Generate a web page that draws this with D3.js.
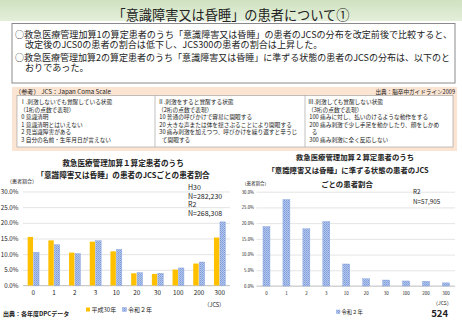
<!DOCTYPE html>
<html><head><meta charset="utf-8">
<script src="https://cdn.jsdelivr.net/npm/d3@7"></script>
<style>
body{margin:0;background:#fff;}
svg{display:block;}
text{font-family:"Noto Sans CJK JP","Noto Sans",sans-serif;fill:#222;}
</style></head>
<body><svg id="c" width="462" height="320"></svg>
<script>
// ---------- data ----------
const categories = ["0","1","2","3","10","20","30","100","200","300"];
const h30Values = [15.5, 14.4, 10.5, 14.0, 10.9, 3.9, 3.7, 5.1, 7.0, 15.3];
const r2Values1 = [10.6, 13.0, 10.2, 14.3, 11.5, 4.1, 3.9, 5.6, 7.5, 20.3];
const r2Values2 = [18.9, 27.5, 18.2, 20.5, 7.0, 2.3, 1.9, 1.6, 1.5, 1.0];
const yTicks = [0, 5, 10, 15, 20, 25, 30];
const seriesNames = ["平成30年", "令和２年"];

const titleText = "「意識障害又は昏睡」の患者について①";
const summaryLines = [
  "○救急医療管理加算1の算定患者のうち「意識障害又は昏睡」の患者のJCSの分布を改定前後で比較すると、",
  "改定後のJCS0の患者の割合は低下し、JCS300の患者の割合は上昇した。",
  "○救急医療管理加算2の算定患者のうち「意識障害又は昏睡」に準ずる状態の患者のJCSの分布は、以下のと",
  "おりであった。"
];
const refHeader = "（参考） JCS：Japan Coma Scale";
const refSource = "出典：脳卒中ガイドライン2009";
const refCols = [
  ["Ⅰ.刺激しないでも覚醒している状態","（1桁の点数で表現）"," 0 意識清明"," 1 意識清明とはいえない"," 2 見当識障害がある"," 3 自分の名前・生年月日が言えない"],
  ["Ⅱ.刺激をすると覚醒する状態","（2桁の点数で表現）"," 10 普通の呼びかけで容易に開眼する"," 20 大きな声または体を揺さぶることにより開眼する"," 30 痛み刺激を加えつつ、呼びかけを繰り返すと辛うじ","   て開眼する"],
  ["Ⅲ.刺激しても覚醒しない状態","（3桁の点数で表現）"," 100 痛みに対し、払いのけるような動作をする"," 200 痛み刺激で少し手足を動かしたり、顔をしかめ","   る"," 300 痛み刺激に全く反応しない"]
];
const chart1Title = ["救急医療管理加算１算定患者のうち","「意識障害又は昏睡」の患者のJCSごとの患者割合"];
const chart2Title = ["救急医療管理加算２算定患者のうち","「意識障害又は昏睡」に準ずる状態の患者のJCS","ごとの患者割合"];
const chart1Notes = ["H30","N=282,230","R2","N=268,308"];
const chart2Notes = ["R2","N=57,905"];

// ---------- drawing ----------
const svg = d3.select("#c");
const defs = svg.append("defs");
const g = defs.append("linearGradient").attr("id","tg").attr("x1",0).attr("x2",0).attr("y1",0).attr("y2",1);
g.append("stop").attr("offset","0%").attr("stop-color","#cfe2c0");
g.append("stop").attr("offset","100%").attr("stop-color","#e4efda");
const pat = defs.append("pattern").attr("id","bp").attr("width",2).attr("height",2).attr("patternUnits","userSpaceOnUse");
pat.append("rect").attr("width",2).attr("height",2).attr("fill","#b3c6ec");
pat.append("rect").attr("width",1).attr("height",1).attr("fill","#7f9ddc");
pat.append("rect").attr("x",1).attr("y",1).attr("width",1).attr("height",1).attr("fill","#8fa9e0");

const yellow = "#ffc000";
const blueFill = "url(#bp)";
const blueStroke = "#7f9ddc";

// title band
svg.append("rect").attr("x",0).attr("y",0).attr("width",462).attr("height",21).attr("fill","url(#tg)");
svg.append("text").attr("x",231).attr("y",14.5).attr("text-anchor","middle").attr("dominant-baseline","central")
  .attr("font-size",13.2).attr("fill","#111").text(titleText);

// summary box
svg.append("rect").attr("x",12).attr("y",23.5).attr("width",443).attr("height",59.5)
  .attr("fill","#fff").attr("stroke","#8a8a8a").attr("stroke-width",1);
const sumPos = [[15,33.5,437],[25,43.5,null],[15,57,435],[25,67,null]];
summaryLines.forEach((t,i)=>{
  const tx = svg.append("text").attr("x",sumPos[i][0]).attr("y",sumPos[i][1]).attr("dominant-baseline","central")
    .attr("font-size",9.1).attr("fill","#111").text(t);
  if (sumPos[i][2]) tx.attr("textLength",sumPos[i][2]).attr("lengthAdjust","spacingAndGlyphs");
});

// reference box
svg.append("rect").attr("x",12).attr("y",87).attr("width",445).attr("height",64).attr("fill","#fbe4d2");
svg.append("text").attr("x",15).attr("y",91.5).attr("dominant-baseline","central").attr("font-size",6.2).attr("fill","#333").text(refHeader);
svg.append("text").attr("x",455).attr("y",91.5).attr("text-anchor","end").attr("dominant-baseline","central").attr("font-size",5.6).attr("fill","#333").text(refSource);
svg.append("rect").attr("x",17).attr("y",95.5).attr("width",436).attr("height",51.5).attr("fill","#fff").attr("stroke","#999").attr("stroke-width",0.6);
const colX = [17,155,305,453];
[155,305].forEach(x=>svg.append("line").attr("x1",x).attr("x2",x).attr("y1",95.5).attr("y2",147).attr("stroke","#999").attr("stroke-width",0.6));
refCols.forEach((col,ci)=>{
  col.forEach((t,li)=>{
    svg.append("text").attr("x",colX[ci]+3).attr("y",101.5+li*7.5).attr("dominant-baseline","central")
      .attr("font-size",5.7).attr("fill","#333").style("white-space","pre").text(t);
  });
});

// ---------- chart helper ----------
function drawChart(opt){
  const x = d3.scaleBand().domain(categories).range(opt.xr).padding(0);
  const y = d3.scaleLinear().domain([0,30]).range(opt.yr);
  const gy = svg.append("g").attr("transform",`translate(${opt.xr[0]},0)`)
    .call(d3.axisLeft(y).tickValues(yTicks).tickFormat(d=>d3.format(".1f")(d)+"%").tickSize(-(opt.gridEnd-opt.xr[0])).tickPadding(opt.tickPad));
  gy.select(".domain").remove();
  gy.selectAll(".tick line").attr("stroke","#d9d9d9").attr("stroke-width",0.7);
  gy.selectAll(".tick text").attr("font-size",opt.yFont).attr("fill","#595959").attr("font-family","'Noto Sans','Liberation Sans',sans-serif");
  const gx = svg.append("g").attr("transform",`translate(0,${opt.yr[0]})`)
    .call(d3.axisBottom(x).tickSize(0).tickPadding(opt.xPad));
  gx.select(".domain").attr("stroke","#bfbfbf").attr("stroke-width",0.8).attr("d",`M${opt.xr[0]},0H${opt.gridEnd}`);
  gx.selectAll(".tick text").attr("font-size",opt.xFont).attr("fill","#404040").attr("font-family","'Noto Sans','Liberation Sans',sans-serif");
  return {x,y};
}

// chart 1
const c1 = drawChart({xr:[23,230], yr:[285.5,191.5], gridEnd:230, tickPad:4.5, yFont:6.2, xPad:5.5, xFont:6.3});
const sub = d3.scaleBand().domain(["H30","R2"]).range([c1.x.bandwidth()/2-5.7, c1.x.bandwidth()/2+5.7]).paddingInner(0.1);
const bars1 = svg.append("g");
bars1.selectAll("rect.h").data(h30Values).join("rect")
  .attr("x",(d,i)=>c1.x(categories[i])+sub("H30")).attr("width",sub.bandwidth())
  .attr("y",d=>c1.y(d)).attr("height",d=>c1.y(0)-c1.y(d)).attr("fill",yellow);
bars1.selectAll("rect.r").data(r2Values1).join("rect")
  .attr("x",(d,i)=>c1.x(categories[i])+sub("R2")).attr("width",sub.bandwidth())
  .attr("y",d=>c1.y(d)).attr("height",d=>c1.y(0)-c1.y(d)).attr("fill",blueFill).attr("stroke",blueStroke).attr("stroke-width",0.4);

chart1Title.forEach((t,i)=>svg.append("text").attr("x",123).attr("y",162.7+i*11.3).attr("text-anchor","middle")
  .attr("dominant-baseline","central").attr("font-size",7.6).attr("font-weight","bold").attr("fill","#333").text(t));
svg.append("text").attr("x",7).attr("y",180).attr("dominant-baseline","central").attr("font-size",5).attr("fill","#595959").text("（患者割合）");
chart1Notes.forEach((t,i)=>svg.append("text").attr("x",188).attr("y",187.3+i*8.4).attr("dominant-baseline","central")
  .attr("font-size",7).attr("fill","#404040").attr("font-family","'Liberation Sans',sans-serif").text(t));
svg.append("text").attr("x",204).attr("y",305).attr("dominant-baseline","central").attr("font-size",5.5).attr("fill","#404040").text("（JCS）");

// legend 1
const leg1 = svg.append("g");
[[86,yellow,null],[122.5,blueFill,blueStroke]].forEach((d,i)=>{
  leg1.append("rect").attr("x",d[0]).attr("y",307.5).attr("width",4).attr("height",4).attr("fill",d[1]).attr("stroke",d[2]).attr("stroke-width",d[2]?0.4:0);
  leg1.append("text").attr("x",d[0]+5.5).attr("y",309.8).attr("dominant-baseline","central").attr("font-size",6).attr("fill","#595959").text(seriesNames[i]);
});
svg.append("text").attr("x",3).attr("y",313).attr("dominant-baseline","central").attr("font-size",6).attr("font-weight","bold").attr("fill","#333").text("出典：各年度DPCデータ");

// chart 2
const c2 = drawChart({xr:[256.5,456], yr:[286,191.7], gridEnd:455, tickPad:2.5, yFont:4.3, xPad:5.5, xFont:4.5});
const bw2 = c2.x.bandwidth()*0.35;
svg.append("g").selectAll("rect").data(r2Values2).join("rect")
  .attr("x",(d,i)=>c2.x(categories[i])+(c2.x.bandwidth()-bw2)/2).attr("width",bw2)
  .attr("y",d=>c2.y(d)).attr("height",d=>c2.y(0)-c2.y(d)).attr("fill",blueFill).attr("stroke",blueStroke).attr("stroke-width",0.4);
chart2Title.forEach((t,i)=>svg.append("text").attr("x",[355,348,347][i]).attr("y",156+i*13.7).attr("text-anchor","middle")
  .attr("dominant-baseline","central").attr("font-size",7.4).attr("font-weight","bold").attr("fill","#333").text(t));
svg.append("text").attr("x",242).attr("y",182.7).attr("dominant-baseline","central").attr("font-size",4.5).attr("fill","#595959").text("（患者割合）");
chart2Notes.forEach((t,i)=>svg.append("text").attr("x",413).attr("y",191.7+i*10).attr("dominant-baseline","central")
  .attr("font-size",6.3).attr("fill","#404040").attr("font-family","'Liberation Sans',sans-serif").text(t));
svg.append("text").attr("x",433).attr("y",302.5).attr("dominant-baseline","central").attr("font-size",5).attr("fill","#404040").text("（JCS）");
svg.append("rect").attr("x",336.5).attr("y",310).attr("width",3.5).attr("height",3.5).attr("fill",blueFill).attr("stroke",blueStroke).attr("stroke-width",0.4);
svg.append("text").attr("x",341.5).attr("y",312).attr("dominant-baseline","central").attr("font-size",5.3).attr("fill","#595959").text(seriesNames[1]);
svg.append("text").attr("x",448).attr("y",313).attr("text-anchor","end").attr("dominant-baseline","central").attr("font-size",9.5).attr("font-weight","bold").attr("fill","#111").attr("font-family","'Liberation Sans',sans-serif").text("524");
</script></body></html>
